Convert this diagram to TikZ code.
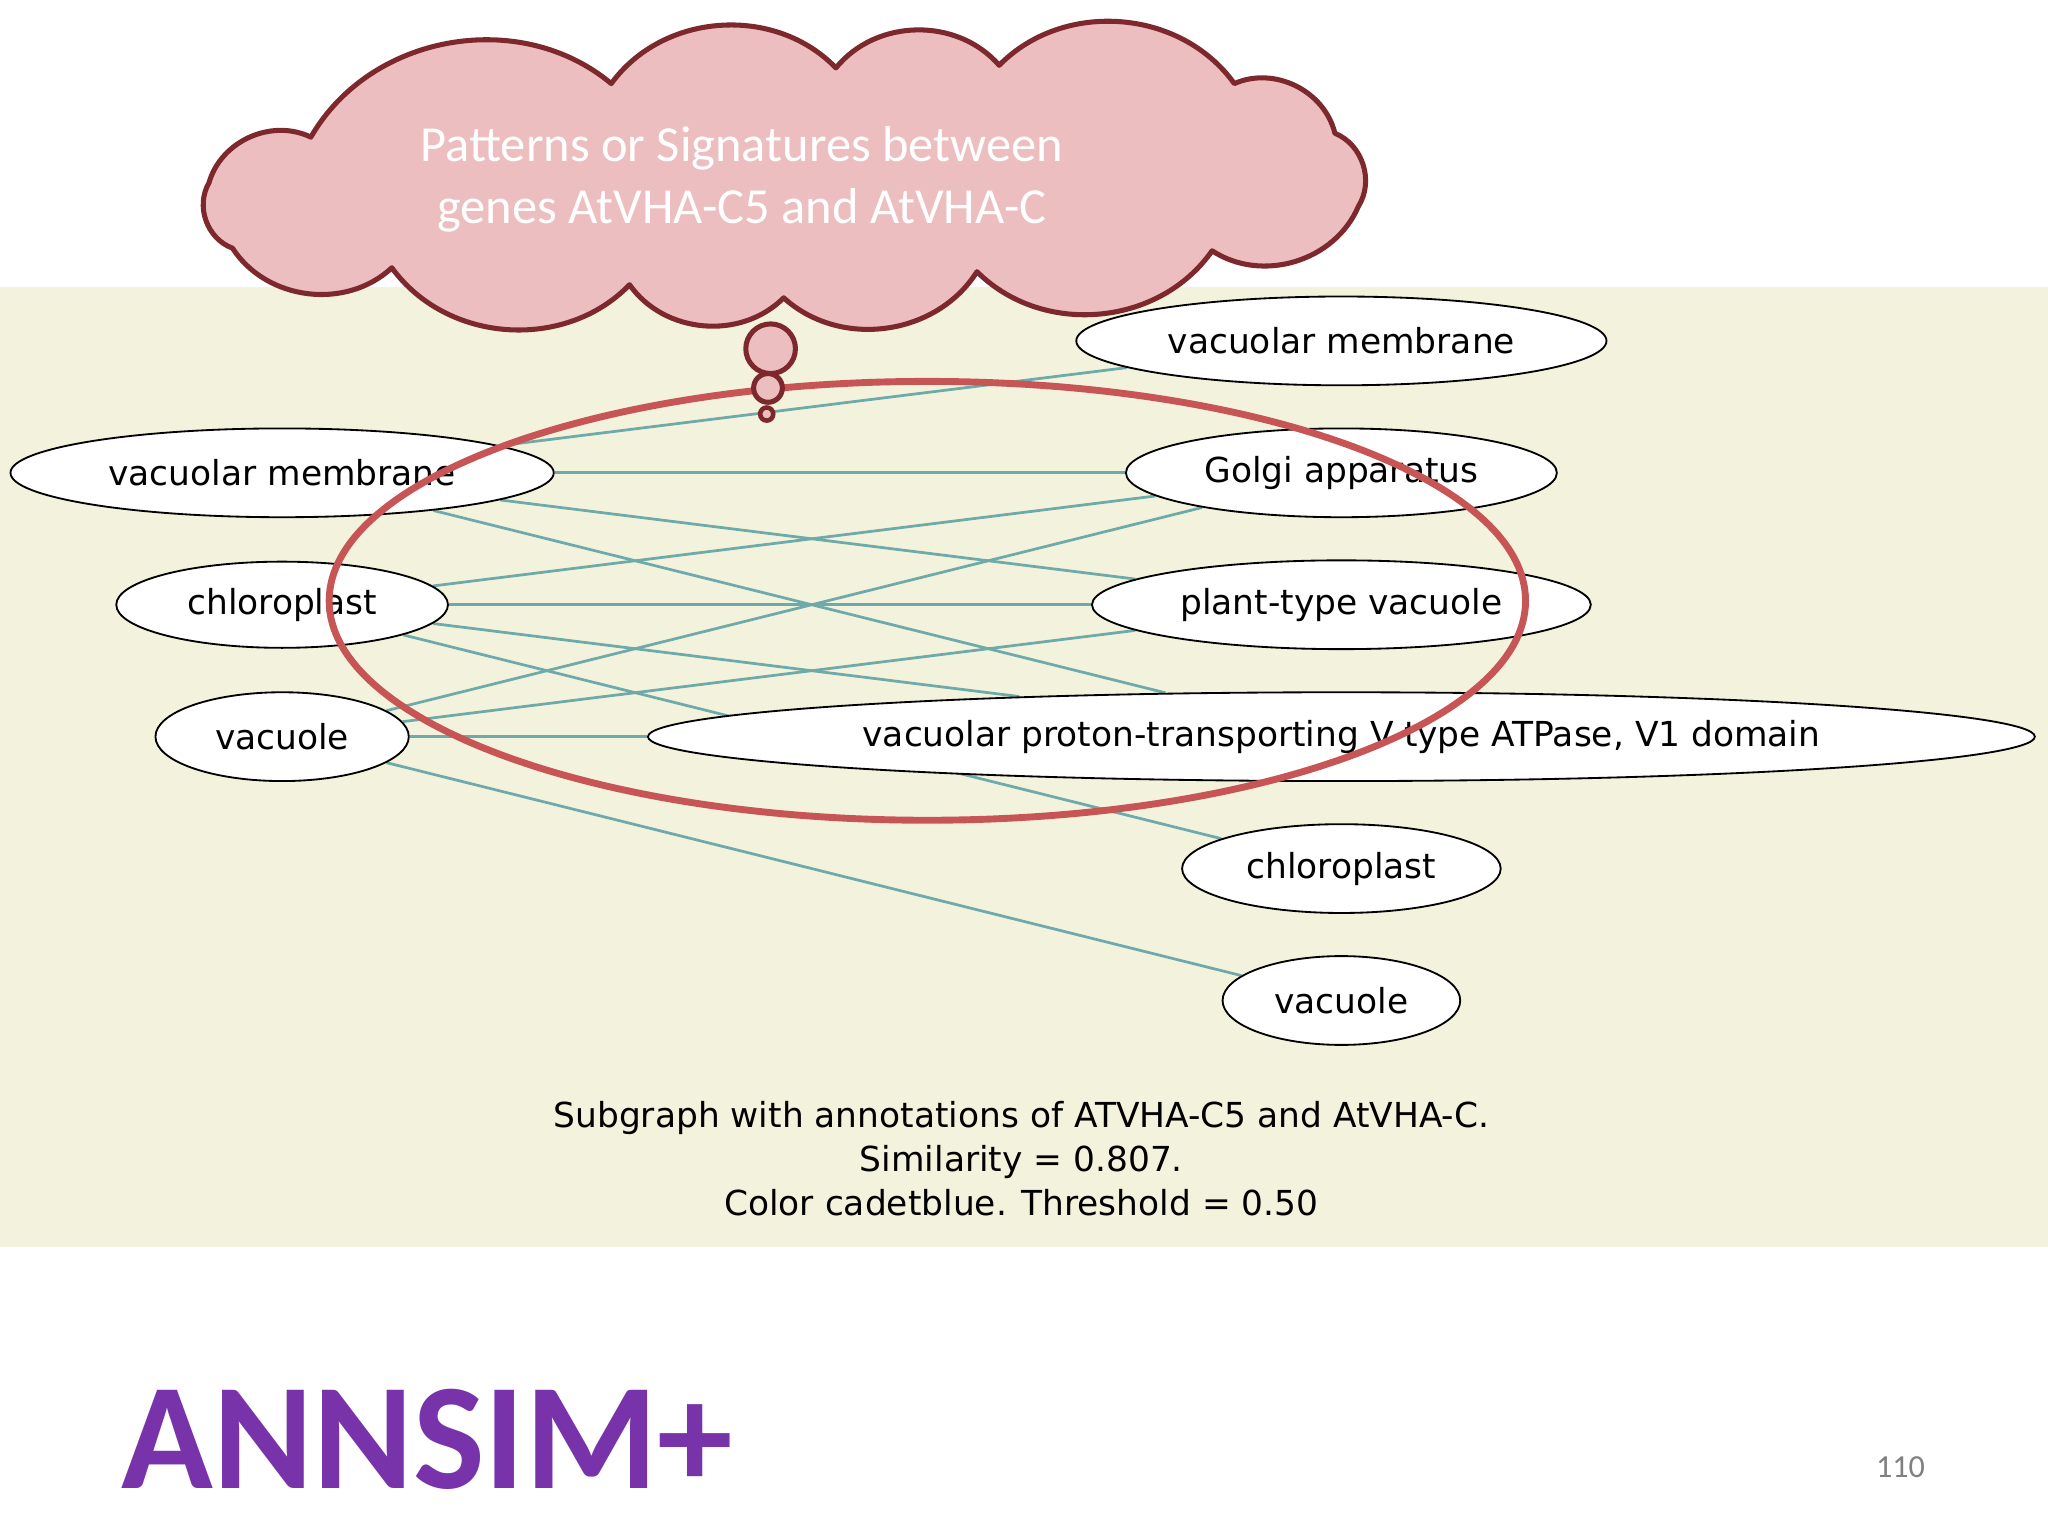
\documentclass[tikz,border=0pt]{standalone}
\usepackage{fontspec}
\setmainfont{DejaVu Sans}
\newfontfamily\carl{Carlito}
\usetikzlibrary{shapes.geometric,backgrounds}
\definecolor{band}{RGB}{243,243,221}
\definecolor{edgec}{RGB}{110,170,170}
\definecolor{cloudf}{RGB}{236,190,192}
\definecolor{cloudd}{RGB}{125,40,45}
\definecolor{ringc}{RGB}{200,85,85}
\definecolor{annc}{RGB}{120,50,170}
\tikzset{
 go/.style={ellipse,draw=black,thick,fill=white,inner sep=0pt,minimum height=1.36cm,font=\fontsize{15}{16}\selectfont},
 ed/.style={draw=edgec,line width=1.2pt},
 puff/.style={bend left=50},
}
\begin{document}
\begin{tikzpicture}[x=0.02cm,y=-0.02cm]
\useasboundingbox (0,0) rectangle (1568,1176);
% nodes
\node[go,minimum width=8.32cm] (L1) at (216,362) {vacuolar membrane};
\node[go,minimum width=5.08cm,minimum height=1.32cm] (L2) at (216,463) {chloroplast};
\node[go,minimum width=3.88cm] (L3) at (216,564) {vacuole};
\node[go,minimum width=8.12cm] (R1) at (1027,261) {vacuolar membrane};
\node[go,minimum width=6.6cm] (R2) at (1027,362) {Golgi apparatus};
\node[go,minimum width=7.64cm] (R3) at (1027,463) {plant-type vacuole};
\node[go,minimum width=21.24cm] (R4) at (1027,564) {vacuolar proton-transporting V-type ATPase, V1 domain};
\node[go,minimum width=4.88cm] (R5) at (1027,665) {chloroplast};
\node[go,minimum width=3.64cm] (R6) at (1027,766) {vacuole};
\begin{scope}[on background layer]
\fill[white] (0,0) rectangle (1568,1176);
\fill[band] (0,220) rectangle (1568,955);
\foreach \a/\b in {L1/R1,L1/R2,L1/R3,L1/R4,L2/R2,L2/R3,L2/R4,L2/R5,L3/R2,L3/R3,L3/R4,L3/R6}
  \draw[ed] (\a) -- (\b);
\end{scope}
% red ring
\draw[ringc,line width=3pt] (710,460) ellipse [x radius=458, y radius=168];
% cloud
\draw[cloudd,line width=2.2pt,fill=cloudf,line join=round]
 (178,190) to[puff] (160,140) to[puff] (238,105) to[puff] (468,64)
 to[puff] (640,52) to[puff] (765,50) to[puff] (945,64) to[puff] (1022,102)
 to[puff] (1040,158) to[puff] (928,192) to[puff] (748,208) to[puff] (600,228)
 to[puff] (482,218) to[puff] (300,205) to[puff] (178,190) -- cycle;
\node[text=white,align=center,font=\carl\fontsize{22}{27}\selectfont] (ct) at (568,137) {Patterns or Signatures between\\genes AtVHA-C5 and AtVHA-C};
\draw[cloudd,line width=2.2pt,fill=cloudf] (590,267) circle (19);
\draw[cloudd,line width=2.2pt,fill=cloudf] (588,297) circle (11);
\draw[cloudd,line width=2pt,fill=cloudf] (587,317) circle (5);
% caption
\node[align=center,font=\fontsize{15}{19.3}\selectfont] (cap) at (782,887) {Subgraph with annotations of ATVHA-C5 and AtVHA-C.\\Similarity = 0.807.\\Color cadetblue. Threshold = 0.50};
\node[anchor=west,text=annc,font=\carl\bfseries\fontsize{66}{70}\selectfont,inner sep=0pt] (ann) at (93,1102) {ANNSIM+};
\node[text=gray,font=\carl\fontsize{14}{16}\selectfont] (pg) at (1455,1123) {110};
\end{tikzpicture}
\end{document}
